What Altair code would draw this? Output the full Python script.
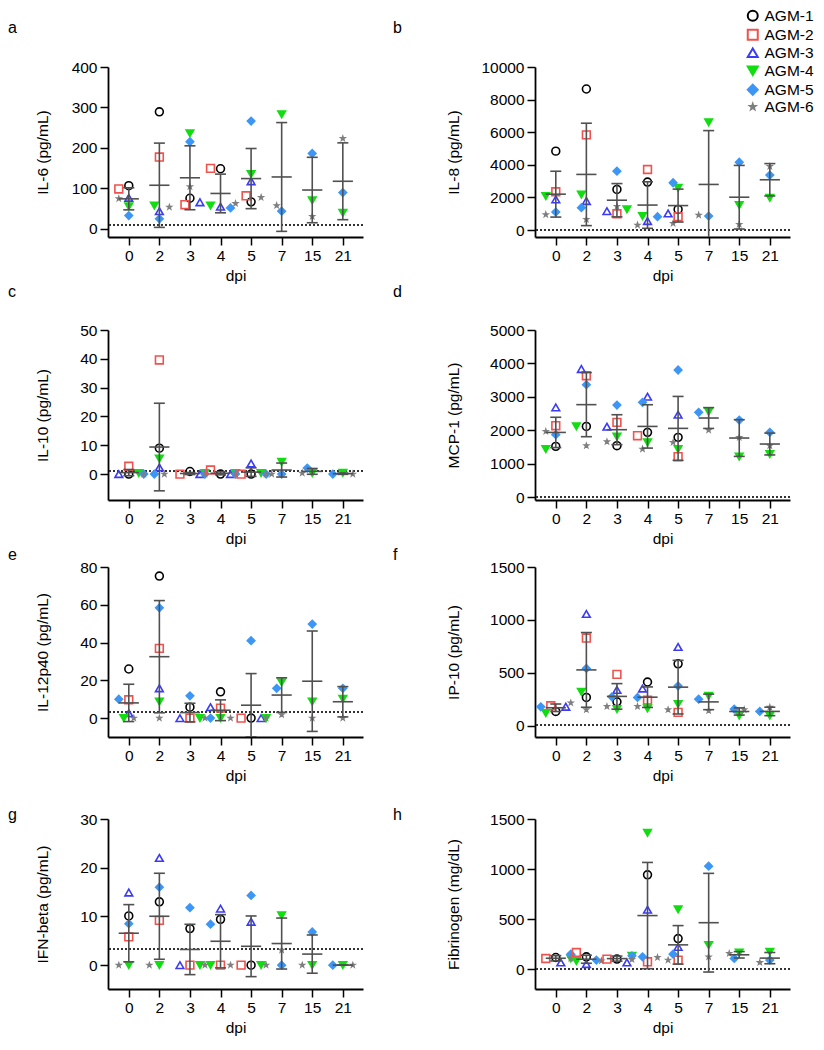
import altair as alt
import pandas as pd

DPI = ["0", "2", "3", "4", "5", "7", "15", "21"]
ANIMALS = ["AGM-1", "AGM-2", "AGM-3", "AGM-4", "AGM-5", "AGM-6"]

IL6 = {
    "AGM-1": [106, 289, 75, 148, 66, None, None, None],
    "AGM-2": [98, 177, 59, 149, 81, None, None, None],
    "AGM-3": [76, 43, 65, 54, 117, None, None, None],
    "AGM-4": [55, 57, 236, 57, 135, 283, 70, 39],
    "AGM-5": [32, 24, 215, 51, 266, 43, 186, 89],
    "AGM-6": [74, 53, 104, 62, 77, 57, 30, 223],
}
IL8 = {
    "AGM-1": [4840, 8650, 2490, 2940, 1265, None, None, None],
    "AGM-2": [2350, 5840, 1000, 3715, 816, None, None, None],
    "AGM-3": [1880, 1780, 1160, 550, 1020, None, None, None],
    "AGM-4": [2080, 2180, 1265, 860, 2590, 6610, 1530, 1980],
    "AGM-5": [1100, 1370, 3610, 816, 2900, 860, 4160, 3370],
    "AGM-6": [950, 650, 1450, 306, 410, 920, 350, 3900],
}
IL10 = {
    "AGM-1": [0, 9.0, 0.9, 0, 0, None, None, None],
    "AGM-2": [2.7, 39.6, 0, 1.4, 0, None, None, None],
    "AGM-3": [0, 2.3, 0, 0, 3.7, None, None, None],
    "AGM-4": [0.35, 5.4, 0.3, 0.3, 0.35, 4.2, 0.35, 0.4],
    "AGM-5": [0, 0, 0, 0, 0, 0, 2.1, 0],
    "AGM-6": [0, 0, 0, 0, 0, 0, 0.35, 0],
}
MCP1 = {
    "AGM-1": [1524, 2121, 1544, 1942, 1793, None, None, None],
    "AGM-2": [2141, 3635, 2241, 1843, 1215, None, None, None],
    "AGM-3": [2689, 3835, 2112, 3008, 2470, None, None, None],
    "AGM-4": [1444, 2121, 1813, 1643, 1444, 2560, 1215, 1295],
    "AGM-5": [1873, 3366, 2759, 2839, 3805, 2540, 2311, 1942],
    "AGM-6": [1972, 1544, 1663, 1444, 1643, 2012, 1793, 1545],
}
IL12P40 = {
    "AGM-1": [26, 75.2, 5.8, 13.9, 0, None, None, None],
    "AGM-2": [9.7, 36.9, 0, 5.3, 0, None, None, None],
    "AGM-3": [2.6, 15.8, 0, 5.8, 0, None, None, None],
    "AGM-4": [0, 8.8, 0, 0, 0, 19, 8.8, 10.2],
    "AGM-5": [10, 58.4, 11.8, 0, 41, 15.8, 49.8, 15.8],
    "AGM-6": [0, 0, 0, 0, 0, 1.8, 0, 0],
}
IP10 = {
    "AGM-1": [134, 266, 225, 412, 584, None, None, None],
    "AGM-2": [187, 828, 484, 241, 125, None, None, None],
    "AGM-3": [178, 1056, 338, 350, 744, None, None, None],
    "AGM-4": [119, 319, 156, 162, 203, 281, 94, 94],
    "AGM-5": [178, 541, 272, 266, 375, 250, 156, 134],
    "AGM-6": [215, 150, 181, 181, 150, 141, 150, 174],
}
IFNB = {
    "AGM-1": [10.1, 13, 7.5, 9.4, 0, None, None, None],
    "AGM-2": [5.8, 9.2, 0, 0, 0, None, None, None],
    "AGM-3": [14.9, 22, 0, 11.6, 8.9, None, None, None],
    "AGM-4": [0, 0, 0, 0, 0, 10.2, 0, 0],
    "AGM-5": [8.5, 16, 11.8, 8.4, 14.3, 0, 6.8, 0],
    "AGM-6": [0, 0, 0, 0, 0, 3.1, 0, 0],
}
FIBRINOGEN = {
    "AGM-1": [116, 123, 100, 942, 305, None, None, None],
    "AGM-2": [106, 166, 100, 73, 90, None, None, None],
    "AGM-3": [66, 50, 66, 594, 222, None, None, None],
    "AGM-4": [106, 80, 133, 1361, 597, 239, 166, 173],
    "AGM-5": [149, 90, 133, 123, 149, 1029, 106, 90],
    "AGM-6": [106, 83, 96, 116, 90, 123, 156, 66],
}

COLORS = ["#000000", "#F0524E", "#3B3BF5", "#11DD11", "#3D96F5", "#7F7F7F"]
FILLS = ["transparent", "transparent", "transparent", "#11DD11", "#3D96F5", "#7F7F7F"]
STAR = ("M0,-0.55L0.13,-0.18L0.52,-0.17L0.21,0.07L0.32,0.445L0,0.22"
        "L-0.32,0.445L-0.21,0.07L-0.52,-0.17L-0.13,-0.18Z")
SHAPES = ["circle", "square", "triangle-up", "triangle-down", "diamond", STAR]
SIZES = [62, 55, 55, 48, 28, 40]

FONT = "Liberation Sans"
W, H = 255, 170
XDOM = [-0.68, 7.66]
STEP = W / (XDOM[1] - XDOM[0])
LABEL_EXPR = "[" + ",".join("'%s'" % d for d in DPI) + "][datum.value]"

# legend position is relative to the plot origin of panel a
LEGEND = alt.Legend(title=None, orient="none", legendX=637, legendY=-59,
                    symbolSize=100, symbolStrokeWidth=2, rowPadding=0,
                    labelOffset=4, padding=0, labelFontSize=15.5,
                    labelFont=FONT, labelColor="black")


def spread(values, ydom):
    """Prism-like horizontal spread of overlapping points (in category units)."""
    rows = []
    for i in range(len(DPI)):
        placed = []
        for a in ANIMALS:
            v = values[a][i]
            if v is None:
                continue
            py = (v - ydom[0]) / (ydom[1] - ydom[0]) * H
            off = 0.0
            for k in [0, -1, 1, -2, 2, -3, 3]:
                off = k * 5.0
                if all(((off - ox) ** 2 + (py - oy) ** 2) ** 0.5 >= 7 for ox, oy in placed):
                    break
            placed.append((off, py))
            rows.append({"animal": a, "idx": i, "xj": i + off / STEP, "value": v})
    return pd.DataFrame(rows)


def panel(letter, values, ylabel, ydom, yticks, lod, side, title_offset):
    df = spread(values, ydom)
    ext = 48 if side == "left" else 64
    xscale = alt.Scale(domain=XDOM, nice=False, zero=False)
    yscale = alt.Scale(domain=ydom, nice=False, zero=False)
    xaxis = alt.Axis(values=list(range(len(DPI))), labelExpr=LABEL_EXPR, title="dpi",
                     labelFlush=False, labelAngle=0)
    yaxis = alt.Axis(values=yticks, title=ylabel, format="d", minExtent=ext,
                     maxExtent=ext, titlePadding=10, labelFlush=False)

    base = alt.Chart(df)
    pts = base.mark_point(opacity=1, strokeWidth=1.6).encode(
        x=alt.X("xj:Q", scale=xscale, axis=xaxis),
        y=alt.Y("value:Q", scale=yscale, axis=yaxis),
        shape=alt.Shape("animal:N", scale=alt.Scale(domain=ANIMALS, range=SHAPES), legend=LEGEND),
        stroke=alt.Stroke("animal:N", scale=alt.Scale(domain=ANIMALS, range=COLORS), legend=LEGEND),
        fill=alt.Fill("animal:N", scale=alt.Scale(domain=ANIMALS, range=FILLS), legend=LEGEND),
        # size scale keeps a data-driven domain so its (hidden) legend is not merged
        size=alt.Size("animal:N", scale=alt.Scale(range=SIZES), legend=None),
    )
    agg = base.transform_aggregate(
        m="mean(value)", s="stdev(value)", groupby=["idx"]
    ).transform_calculate(
        lo="datum.m - datum.s", hi="datum.m + datum.s",
        xl="datum.idx - 0.33", xr="datum.idx + 0.33",
        cl="datum.idx - 0.18", cr="datum.idx + 0.18",
    )
    ebc = "#505050"
    vline = agg.mark_rule(color=ebc, strokeWidth=1.6, clip=True).encode(
        x=alt.X("idx:Q", scale=xscale, axis=xaxis),
        y=alt.Y("lo:Q", scale=yscale, axis=yaxis), y2="hi:Q")
    mean = agg.mark_rule(color=ebc, strokeWidth=1.6, clip=True).encode(
        x=alt.X("xl:Q", scale=xscale, axis=xaxis), x2="xr:Q",
        y=alt.Y("m:Q", scale=yscale, axis=yaxis))
    capt = agg.mark_rule(color=ebc, strokeWidth=1.6, clip=True).encode(
        x=alt.X("cl:Q", scale=xscale, axis=xaxis), x2="cr:Q",
        y=alt.Y("hi:Q", scale=yscale, axis=yaxis))
    capb = agg.mark_rule(color=ebc, strokeWidth=1.6, clip=True).encode(
        x=alt.X("cl:Q", scale=xscale, axis=xaxis), x2="cr:Q",
        y=alt.Y("lo:Q", scale=yscale, axis=yaxis))
    lodline = alt.Chart(df).mark_rule(color="#333333", strokeWidth=1.3,
                                      strokeDash=[2, 2]).encode(
        y=alt.Y(datum=lod, type="quantitative", scale=yscale, axis=yaxis))

    dx = -100 if side == "left" else -142
    title = alt.TitleParams(letter, anchor="start", frame="group", dx=dx,
                            offset=title_offset, baseline="top", fontSize=16,
                            fontWeight="normal", font=FONT, color="black")
    return alt.layer(lodline, pts, vline, mean, capt, capb).properties(
        width=W, height=H, title=title)


pa = panel("a", IL6, "IL-6 (pg/mL)", [-21, 400], [0, 100, 200, 300, 400], 8, "left", 24.5)
pb = panel("b", IL8, "IL-8 (pg/mL)", [-427, 10000], [0, 2000, 4000, 6000, 8000, 10000], 10, "right", 24.5)
pc = panel("c", IL10, "IL-10 (pg/mL)", [-9, 50], [0, 10, 20, 30, 40, 50], 1.2, "left", 23)
pd_ = panel("d", MCP1, "MCP-1 (pg/mL)", [-78, 5000], [0, 1000, 2000, 3000, 4000, 5000], 15, "right", 23)
pe = panel("e", IL12P40, "IL-12p40 (pg/mL)", [-10, 80], [0, 20, 40, 60, 80], 3.3, "left", -3)
pf = panel("f", IP10, "IP-10 (pg/mL)", [-108, 1500], [0, 500, 1000, 1500], 4, "right", -3)
pg = panel("g", IFNB, "IFN-beta (pg/mL)", [-4.9, 30], [0, 10, 20, 30], 3.4, "left", -11)
ph = panel("h", FIBRINOGEN, "Fibrinogen (mg/dL)", [-199, 1500], [0, 500, 1000, 1500], 3, "right", -11)

r1 = alt.hconcat(pa, pb, spacing=29)
r2 = alt.hconcat(pc, pd_, spacing=29)
r3 = alt.hconcat(pe, pf, spacing=29)
r4 = alt.hconcat(pg, ph, spacing=29)

chart = alt.vconcat(alt.vconcat(r1, r2, r3, spacing=0), r4, spacing=23).properties(
    padding={"left": 0, "top": 0, "right": 0, "bottom": 0}
).configure_view(stroke=None).configure_axis(
    grid=False, domainColor="black", domainWidth=1.8, tickColor="black",
    tickWidth=1.5, tickSize=8, labelPadding=3, labelFont=FONT, labelFontSize=15.5,
    labelColor="black", titleFont=FONT, titleFontSize=15.5, titleFontWeight="normal",
    titleColor="black",
).configure_axisX(titlePadding=5).configure_legend(
    labelFont=FONT, labelFontSize=15.5
)

chart.save("out.html", embed_options={"renderer": "svg", "actions": False})
